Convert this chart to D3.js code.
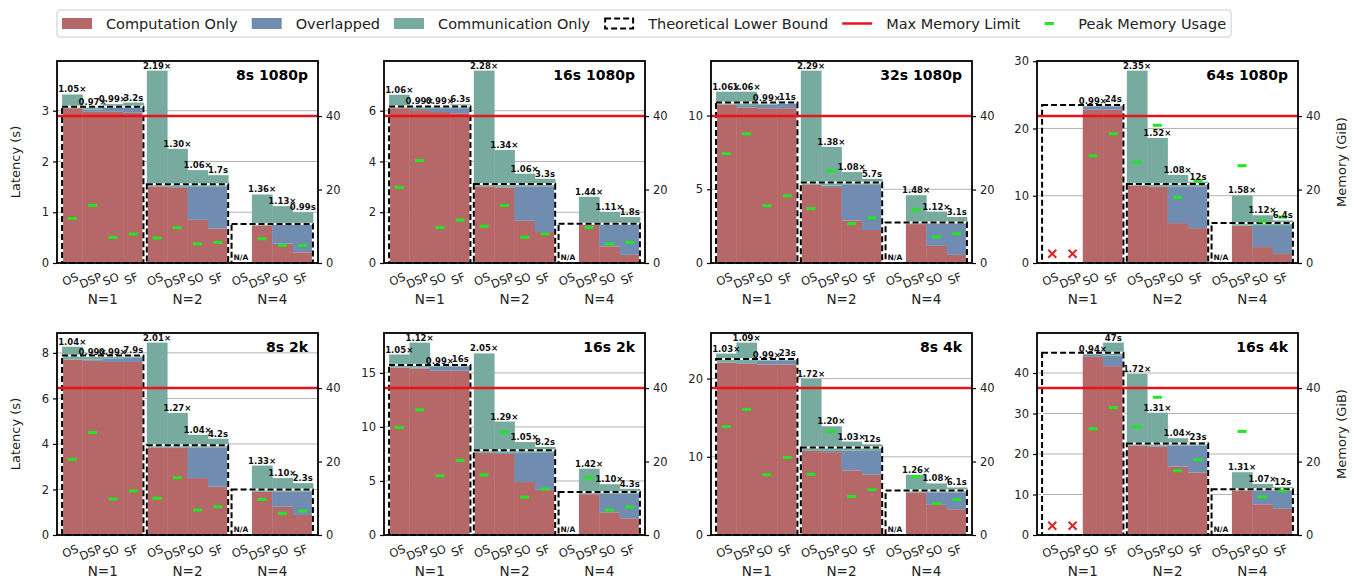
<!DOCTYPE html>
<html>
<head>
<meta charset="utf-8">
<script src="https://cdn.jsdelivr.net/npm/d3@7"></script>
<style>
  body { margin: 0; background: #fff; }
  text { font-family: 'DejaVu Sans', sans-serif; }
</style>
</head>
<body>
<script>
// chart data, one row of 12 bars per panel: N=1 [OS DSP SO SF], N=2 [...], N=4 [...]
const panelTitles = ['8s 1080p', '16s 1080p', '32s 1080p', '64s 1080p', '8s 2k', '16s 2k', '8s 4k', '16s 4k']
const groupNames = ['N=1', 'N=2', 'N=4']
const methodNames = ['OS', 'DSP', 'SO', 'SF']

const compOnly = [
  [3.05, 2.98, 2.98, 2.96, 1.51, 1.48, 0.85, 0.68, null, 0.74, 0.38, 0.21],
  [6.10, 6.02, 5.95, 5.90, 3.02, 2.98, 1.66, 1.22, null, 1.51, 0.66, 0.32],
  [10.75, 10.55, 10.5, 10.5, 5.30, 5.15, 2.89, 2.24, null, 2.64, 1.16, 0.55],
  [null, null, 22.8, 22.8, 11.5, 11.3, 5.93, 5.19, null, 5.54, 2.37, 1.33],
  [7.70, 7.65, 7.60, 7.60, 3.85, 3.82, 2.50, 2.12, null, 1.90, 1.24, 0.88],
  [15.5, 15.4, 15.2, 15.2, 7.60, 7.50, 4.90, 4.18, null, 3.78, 2.10, 1.55],
  [22.05, 21.9, 21.8, 21.8, 10.75, 10.6, 8.27, 7.70, null, 5.44, 3.85, 3.30],
  [null, null, 44.0, 41.7, 22.1, 21.8, 16.9, 15.45, null, 11.0, 7.60, 6.45]
]
const overlapped = [
  [0, 0.04, 0.10, 0.12, 0, 0.02, 0.65, 0.82, null, 0, 0.37, 0.54],
  [0, 0.05, 0.15, 0.20, 0, 0.02, 1.36, 1.80, null, 0, 0.85, 1.19],
  [0, 0.10, 0.25, 0.30, 0, 0.10, 2.41, 3.06, null, 0, 1.49, 2.10],
  [null, null, 0.5, 0.5, 0, 0.1, 5.47, 6.21, null, 0, 3.13, 4.17],
  [0, 0.05, 0.15, 0.20, 0, 0.03, 1.35, 1.73, null, 0, 0.66, 1.02],
  [0, 0.10, 0.35, 0.40, 0, 0.10, 2.70, 3.42, null, 0, 1.70, 2.25],
  [0, 0.10, 0.50, 0.55, 0, 0.15, 2.50, 3.05, null, 0, 1.60, 2.15],
  [null, null, 0.5, 2.6, 0, 0.3, 5.2, 6.65, null, 0, 3.4, 4.55]
]
const commOnly = [
  [0.27, 0.05, 0.05, 0.08, 2.28, 0.75, 0.33, 0.23, null, 0.61, 0.37, 0.25],
  [0.53, 0.12, 0.09, 0.15, 4.56, 1.45, 0.50, 0.30, null, 1.10, 0.50, 0.30],
  [0.87, 0.97, 0.09, 0.15, 7.75, 2.63, 0.87, 0.41, null, 1.96, 0.84, 0.47],
  [null, null, 0.1, 0.3, 17.1, 7.2, 1.7, 0.7, null, 4.51, 1.6, 0.83],
  [0.57, 0.12, 0.07, 0.10, 4.60, 1.51, 0.55, 0.38, null, 1.15, 0.60, 0.38],
  [1.2, 2.3, 0.1, 0.2, 9.2, 2.9, 1.0, 0.55, null, 2.36, 0.9, 0.48],
  [1.15, 2.6, 0.1, 0.25, 9.2, 3.15, 1.18, 0.85, null, 2.26, 1.15, 0.63],
  [null, null, 0.3, 3.2, 17.7, 8.1, 1.8, 0.87, null, 4.5, 1.6, 0.8]
]
const lowerBound = [
  [3.08, 1.55, 0.77],
  [6.17, 3.11, 1.55],
  [10.88, 5.46, 2.75],
  [23.5, 11.76, 5.93],
  [7.88, 3.94, 2.0],
  [15.74, 7.84, 3.97],
  [22.5, 11.2, 5.7],
  [45.0, 22.6, 11.3]
]
const peakMemory = [
  [12.1, 15.7, 7.0, 7.9, 6.8, 9.6, 5.2, 5.6, null, 6.6, 4.8, 4.8],
  [20.6, 27.9, 9.7, 11.7, 10.0, 15.7, 7.0, 7.9, null, 9.7, 5.2, 5.6],
  [29.8, 35.2, 15.6, 18.3, 14.8, 25.0, 10.7, 12.3, null, 14.4, 7.1, 8.0],
  [null, null, 29.2, 35.2, 27.5, 37.5, 17.9, 22.3, null, 26.5, 11.4, 12.5],
  [20.6, 27.9, 9.8, 12.0, 10.0, 15.6, 6.8, 7.7, null, 9.7, 5.9, 6.5],
  [29.3, 34.1, 16.1, 20.3, 16.4, 28.0, 10.3, 12.5, null, 15.6, 6.8, 7.6],
  [29.5, 34.2, 16.4, 21.1, 16.5, 28.2, 10.5, 12.4, null, 15.9, 8.6, 9.7],
  [null, null, 28.9, 34.7, 29.4, 37.5, 17.5, 20.5, null, 28.2, 10.4, 12.0]
]
// bars that ran out of memory (marked with a red x)
const oomBars = [[], [], [], [0, 1], [], [], [], [0, 1]]
const barLabels = [
  ['1.05×', '0.97×', '0.99×', '3.2s', '2.19×', '1.30×', '1.06×', '1.7s', null, '1.36×', '1.13×', '0.99s'],
  ['1.06×', '0.99×', '0.99×', '6.3s', '2.28×', '1.34×', '1.06×', '3.3s', null, '1.44×', '1.11×', '1.8s'],
  ['1.06×', '1.06×', '0.99×', '11s', '2.29×', '1.38×', '1.08×', '5.7s', null, '1.48×', '1.12×', '3.1s'],
  [null, null, '0.99×', '24s', '2.35×', '1.52×', '1.08×', '12s', null, '1.58×', '1.12×', '6.4s'],
  ['1.04×', '0.99×', '0.99×', '7.9s', '2.01×', '1.27×', '1.04×', '4.2s', null, '1.33×', '1.10×', '2.3s'],
  ['1.05×', '1.12×', '0.99×', '16s', '2.05×', '1.29×', '1.05×', '8.2s', null, '1.42×', '1.10×', '4.3s'],
  ['1.03×', '1.09×', '0.99×', '23s', '1.72×', '1.20×', '1.03×', '12s', null, '1.26×', '1.08×', '6.1s'],
  [null, null, '0.94×', '47s', '1.72×', '1.31×', '1.04×', '23s', null, '1.31×', '1.07×', '12s']
]
const latencyTicks = [
  [0, 1, 2, 3], [0, 2, 4, 6], [0, 5, 10], [0, 10, 20, 30],
  [0, 2, 4, 6, 8], [0, 5, 10, 15], [0, 10, 20], [0, 10, 20, 30, 40]
]
const memoryTicks = [0, 20, 40]
const memoryLimit = 40
const memoryMax = 55
const oomMarkerMem = 2.5

const colors = { comp: '#b66868', ov: '#708cb0', comm: '#77ab9f' }
const memColor = '#22e622'
const limitColor = '#e8141c'

const svg = d3.select('body').append('svg').attr('width', 1365).attr('height', 587)

const colLeft = [57, 384, 711, 1037]
const rowTop = [61, 333]
const pw = 261, ph = 202
const barW = 0.24

panelTitles.forEach((title, p) => {
  const col = p % 4
  const row = Math.floor(p / 4)
  const g = svg.append('g').attr('transform', `translate(${colLeft[col]},${rowTop[row]})`)

  const rows = compOnly[p].map((c, i) => ({
    i,
    has: c != null,
    comp: c || 0,
    ov: overlapped[p][i] || 0,
    comm: commOnly[p][i] || 0
  }))
  const stacked = d3.stack().keys(['comp', 'ov', 'comm'])(rows)
  const maxTotal = d3.max(rows, d => d.comp + d.ov + d.comm)

  const x = d3.scaleLinear().domain([-0.54, 2.54]).range([0, pw])
  const y = d3.scaleLinear().domain([0, maxTotal * 1.05]).range([ph, 0])
  const yMem = d3.scaleLinear().domain([0, memoryMax]).range([ph, 0])
  const barCenter = i => Math.floor(i / 4) + ((i % 4) - 1.5) * barW

  // grid
  g.selectAll('.grid')
    .data(latencyTicks[p].filter(t => t > 0))
    .enter()
    .append('line')
    .attr('x1', 0).attr('x2', pw)
    .attr('y1', d => y(d)).attr('y2', d => y(d))
    .attr('stroke', '#b3b3b3').attr('stroke-width', 1)

  // stacked bars
  stacked.forEach(layer => {
    g.append('g')
      .selectAll('rect')
      .data(layer.filter(d => d.data.has && d[1] > d[0]))
      .enter()
      .append('rect')
      .attr('x', d => x(barCenter(d.data.i) - barW / 2))
      .attr('width', x(barW) - x(0) + 0.4)
      .attr('y', d => y(d[1]))
      .attr('height', d => y(d[0]) - y(d[1]))
      .attr('fill', colors[layer.key])
  })

  // theoretical lower bound boxes
  ;[{ stroke: '#fff', dash: null }, { stroke: '#000', dash: '6,3' }].forEach(s => {
    g.append('g')
      .selectAll('rect')
      .data(lowerBound[p])
      .enter()
      .append('rect')
      .attr('x', (d, gi) => x(gi - 0.48))
      .attr('width', x(0.96) - x(0))
      .attr('y', d => y(d))
      .attr('height', d => y(0) - y(d))
      .attr('fill', 'none')
      .attr('stroke', s.stroke)
      .attr('stroke-width', 2)
      .attr('stroke-dasharray', s.dash)
  })

  // memory limit
  g.append('line')
    .attr('x1', 0).attr('x2', pw)
    .attr('y1', yMem(memoryLimit)).attr('y2', yMem(memoryLimit))
    .attr('stroke', limitColor).attr('stroke-width', 2.5)

  // peak memory markers
  g.append('g')
    .selectAll('rect')
    .data(peakMemory[p].map((m, i) => ({ m, i })).filter(d => d.m != null))
    .enter()
    .append('rect')
    .attr('x', d => x(barCenter(d.i)) - 4.5)
    .attr('y', d => yMem(d.m) - 1.5)
    .attr('width', 9).attr('height', 3)
    .attr('fill', memColor)

  // out of memory
  g.append('g')
    .selectAll('path')
    .data(oomBars[p])
    .enter()
    .append('path')
    .attr('transform', i => `translate(${x(barCenter(i))},${yMem(oomMarkerMem)})`)
    .attr('d', 'M-4,-4L4,4M-4,4L4,-4')
    .attr('stroke', '#e02222').attr('stroke-width', 2).attr('fill', 'none')

  // labels above bars
  g.append('g')
    .selectAll('text')
    .data(rows.filter(d => d.has && barLabels[p][d.i]))
    .enter()
    .append('text')
    .attr('x', d => x(barCenter(d.i)))
    .attr('y', d => y(d.comp + d.ov + d.comm) - 2)
    .attr('text-anchor', 'middle')
    .style('font-size', '8.5px')
    .style('font-weight', 'bold')
    .attr('fill', '#111')
    .text(d => barLabels[p][d.i])

  // N/A marks
  g.append('g')
    .selectAll('text')
    .data(rows.filter(d => !d.has && !oomBars[p].includes(d.i)))
    .enter()
    .append('text')
    .attr('x', d => x(barCenter(d.i) - barW / 2) + 2)
    .attr('y', ph - 3)
    .style('font-size', '7.5px')
    .style('font-weight', 'bold')
    .attr('fill', '#111')
    .text('N/A')

  // frame
  g.append('rect')
    .attr('width', pw).attr('height', ph)
    .attr('fill', 'none').attr('stroke', '#000').attr('stroke-width', 1.8)

  // axes
  const yAxisG = g.append('g')
    .call(d3.axisLeft(y).tickValues(latencyTicks[p]).tickFormat(d3.format('d')).tickSize(4).tickPadding(4))
  const memAxisG = g.append('g')
    .attr('transform', `translate(${pw},0)`)
    .call(d3.axisRight(yMem).tickValues(memoryTicks).tickFormat(d3.format('d')).tickSize(4).tickPadding(4))
  ;[yAxisG, memAxisG].forEach(a => {
    a.select('.domain').remove()
    a.selectAll('line').attr('stroke', '#000').attr('stroke-width', 1.2)
    a.selectAll('text').style('font-size', '11.5px').style('font-family', 'DejaVu Sans').attr('fill', '#222')
  })

  // method tick labels
  const deg = 22
  const rot = deg * Math.PI / 180
  rows.forEach(d => {
    const t = g.append('text')
      .attr('text-anchor', 'middle')
      .attr('dominant-baseline', 'central')
      .style('font-size', '11.5px')
      .attr('fill', '#222')
      .text(methodNames[d.i % 4])
    const w = t.node().getComputedTextLength()
    const rh = w * Math.sin(rot) + 11 * Math.cos(rot)
    t.attr('transform', `translate(${x(barCenter(d.i)) - 2},${ph + 8 + rh / 2}) rotate(${-deg})`)
  })

  // group labels
  g.append('g')
    .selectAll('text')
    .data(groupNames)
    .enter()
    .append('text')
    .attr('x', (d, gi) => x(gi))
    .attr('y', ph + 41)
    .attr('text-anchor', 'middle')
    .style('font-size', '13.5px')
    .attr('fill', '#222')
    .text(d => d)

  // title
  g.append('text')
    .attr('x', pw - 10).attr('y', 19)
    .attr('text-anchor', 'end')
    .style('font-size', '14px')
    .style('font-weight', 'bold')
    .text(title)

  if (col === 0) {
    g.append('text')
      .attr('transform', `translate(-37,${ph / 2}) rotate(-90)`)
      .attr('text-anchor', 'middle')
      .style('font-size', '13px')
      .attr('fill', '#222')
      .text('Latency (s)')
  }
  if (col === 3) {
    g.append('text')
      .attr('transform', `translate(${pw + 48},${ph / 2}) rotate(-90)`)
      .attr('text-anchor', 'middle')
      .style('font-size', '13px')
      .attr('fill', '#222')
      .text('Memory (GiB)')
  }
})

// legend
const legendItems = [
  { label: 'Computation Only', type: 'patch', color: colors.comp },
  { label: 'Overlapped', type: 'patch', color: colors.ov },
  { label: 'Communication Only', type: 'patch', color: colors.comm },
  { label: 'Theoretical Lower Bound', type: 'box' },
  { label: 'Max Memory Limit', type: 'line' },
  { label: 'Peak Memory Usage', type: 'marker' }
]
const legend = svg.append('g')
const legendBox = legend.append('rect')
  .attr('x', 57).attr('y', 10).attr('height', 27).attr('rx', 3)
  .attr('fill', '#fff').attr('stroke', '#cccccc').attr('stroke-width', 1)
let lx = 62
const ly = 23.5
legendItems.forEach(item => {
  if (item.type === 'patch') {
    legend.append('rect').attr('x', lx).attr('y', ly - 5.5).attr('width', 30).attr('height', 11).attr('fill', item.color)
  } else if (item.type === 'box') {
    legend.append('rect').attr('x', lx + 1).attr('y', ly - 5).attr('width', 28).attr('height', 10)
      .attr('fill', 'none').attr('stroke', '#000').attr('stroke-width', 2).attr('stroke-dasharray', '6,3')
  } else if (item.type === 'line') {
    legend.append('line').attr('x1', lx).attr('x2', lx + 30).attr('y1', ly).attr('y2', ly)
      .attr('stroke', limitColor).attr('stroke-width', 2.5)
  } else {
    legend.append('rect').attr('x', lx + 10.5).attr('y', ly - 1.5).attr('width', 9).attr('height', 3).attr('fill', memColor)
  }
  const t = legend.append('text')
    .attr('x', lx + 44).attr('y', ly)
    .attr('dominant-baseline', 'central')
    .style('font-size', '14.5px')
    .attr('fill', '#222')
    .text(item.label)
  lx += 44 + t.node().getComputedTextLength() + 14
})
legendBox.attr('width', lx - 57 - 9)
</script>
</body>
</html>
